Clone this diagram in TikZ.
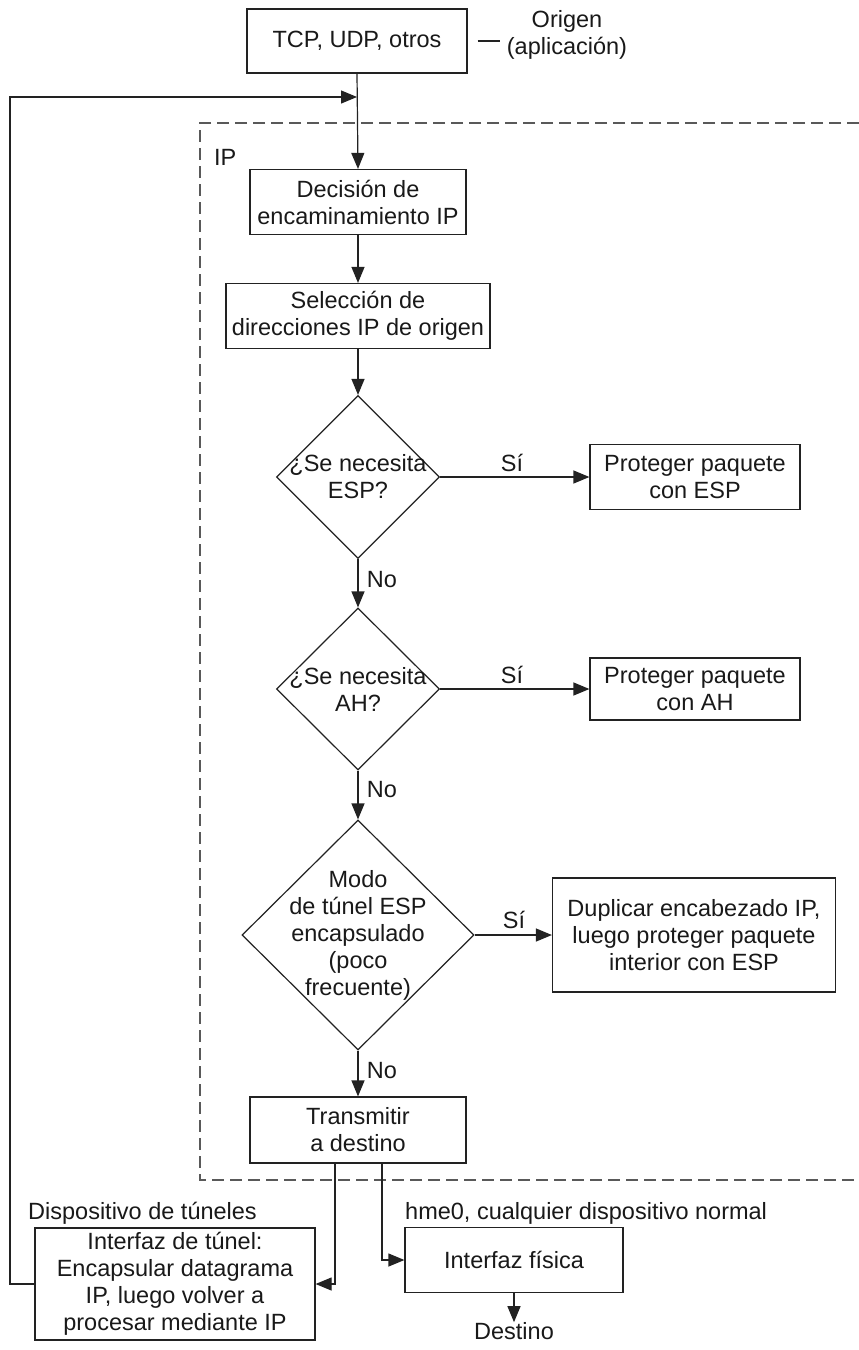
\documentclass[tikz,border=0pt]{standalone}
\usepackage{fontspec}
\setmainfont{Liberation Sans}
\usetikzlibrary{arrows.meta,shapes.geometric}
\definecolor{ln}{HTML}{222222}
\begin{document}
\begin{tikzpicture}[x=1pt,y=-1pt,
  every node/.style={font=\fontsize{23.5}{27}\selectfont, text=black!90},
  box/.style={draw=ln, line width=1.2pt, rectangle, align=center, inner sep=0pt},
  dia/.style={draw=ln, line width=1.2pt, diamond, inner sep=0pt},
  txt/.style={align=center, inner sep=0pt},
  ln/.style={draw=ln, line width=1.2pt},
  arr/.style={ln, -{Triangle[length=16pt,width=13pt]}},
  dashedln/.style={draw=ln!75, line width=1.2pt, dash pattern=on 12pt off 6pt}]
\useasboundingbox (0,0) rectangle (859,1350);
\fill[white] (0,0) rectangle (859,1350);
% dashed IP region
\draw[dashedln] (859,123) -- (200,123) -- (200,1180) -- (859,1180);
\node[txt, anchor=west] (iplbl) at (214,157) {IP};
% boxes
\node[box, minimum width=220pt, minimum height=64pt] (tcp) at (357,41) {TCP, UDP, otros};
\node[txt] (orig) at (567,35) {Origen\\(aplicación)};
\node[box, minimum width=216pt, minimum height=65pt] (dec) at (358,202) {Decisión de\\encaminamiento IP};
\node[box, minimum width=264pt, minimum height=65pt] (sel) at (358,316) {Selección de\\direcciones IP de origen};
\node[dia, minimum width=163pt, minimum height=163pt] (d1) at (358,477) {};
\node[txt] (d1t) at (d1) {¿Se necesita\\ESP?};
\node[box, minimum width=210pt, minimum height=65pt] (pesp) at (695,477) {Proteger paquete\\con ESP};
\node[dia, minimum width=163pt, minimum height=162pt] (d2) at (358,689) {};
\node[txt] (d2t) at (d2) {¿Se necesita\\AH?};
\node[box, minimum width=210pt, minimum height=62pt] (pah) at (695,689) {Proteger paquete\\con AH};
\node[dia, minimum width=232pt, minimum height=230pt] (d3) at (358,935) {};
\node[txt] (d3t) at (d3) {Modo\\de túnel ESP\\encapsulado\\(poco\\frecuente)};
\node[box, minimum width=283pt, minimum height=114pt] (dup) at (694,935) {Duplicar encabezado IP,\\luego proteger paquete\\interior con ESP};
\node[box, minimum width=216pt, minimum height=66pt] (tx) at (358,1130) {Transmitir\\a destino};
\node[txt, anchor=west] (dtun) at (28,1213) {Dispositivo de túneles};
\node[txt, anchor=west] (dnorm) at (405,1213) {hme0, cualquier dispositivo normal};
\node[box, minimum width=280pt, minimum height=112pt] (tun) at (175,1284) {Interfaz de túnel:\\Encapsular datagrama\\IP, luego volver a\\procesar mediante IP};
\node[box, minimum width=218pt, minimum height=65pt] (phys) at (514,1260) {Interfaz física};
\node[txt] (dest) at (514,1331) {Destino};
% labels
\node[txt] (s1) at (512,463) {Sí};
\node[txt] (s2) at (512,675) {Sí};
\node[txt] (s3) at (514,920) {Sí};
\node[txt] (n1) at (382,580) {No};
\node[txt] (n2) at (382,790) {No};
\node[txt] (n3) at (382,1071) {No};
% coordinates
\coordinate (loopL) at (10,97);
\coordinate (loopR) at (357,97);
\coordinate (tunin) at (35,1284);
% connectors
\draw[ln] ([xshift=10pt]tcp.east) -- ([xshift=32pt]tcp.east);
\draw[arr] (tcp.south) -- (dec.north);
\draw[arr] (tunin) -| (loopL) -- (loopR);
\draw[arr] (dec.south) -- (sel.north);
\draw[arr] (sel.south) -- (d1.north);
\draw[arr] (d1.east) -- (pesp.west);
\draw[arr] (d1.south) -- (d2.north);
\draw[arr] (d2.east) -- (pah.west);
\draw[arr] (d2.south) -- (d3.north);
\draw[arr] (d3.east) -- (dup.west);
\draw[arr] (d3.south) -- (tx.north);
\draw[arr] ([xshift=-23pt]tx.south) |- (tun.east);
\draw[arr] ([xshift=24pt]tx.south) |- (phys.west);
\draw[arr] (phys.south) -- (dest.north);
\end{tikzpicture}
\end{document}
